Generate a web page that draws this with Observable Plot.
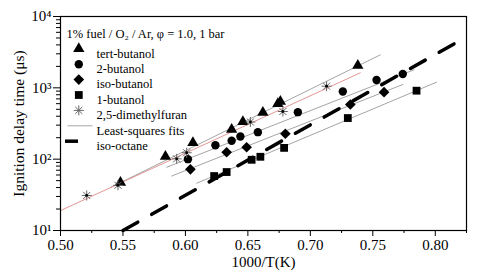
<!DOCTYPE html>
<html><head><meta charset="utf-8">
<script src="https://cdn.jsdelivr.net/npm/d3@7"></script>
<script src="https://cdn.jsdelivr.net/npm/@observablehq/plot@0.6"></script>
<style>body{margin:0;background:#fff}</style>
</head><body><div id="chart"></div>
<script>
// ---- data (1000/T in 1/K, ignition delay in µs) ----
const tertX = [0.548, 0.584, 0.606, 0.637, 0.646, 0.662, 0.674, 0.676, 0.738];
const tertT = [47, 109, 170, 260, 335, 450, 600, 645, 2050];
const but2X = [0.602, 0.624, 0.637, 0.644, 0.658, 0.690, 0.726, 0.753, 0.774];
const but2T = [100, 157, 181, 208, 239, 456, 889, 1288, 1564];
const isoX = [0.604, 0.633, 0.649, 0.680, 0.732, 0.759];
const isoT = [72, 125, 147, 227, 584, 869];
const but1X = [0.623, 0.633, 0.653, 0.660, 0.679, 0.730, 0.785];
const but1T = [58, 66, 98, 108, 144, 377, 912];
const dmfX = [0.521, 0.546, 0.593, 0.601, 0.652, 0.678, 0.713];
const dmfT = [31, 43, 101, 123, 332, 466, 1054];
// least-squares fit end points
const fitTertX = [0.540, 0.756], fitTertT = [40, 2900];
const fitBut2X = [0.585, 0.783], fitBut2T = [77, 1790];
const fitIsoX = [0.589, 0.774], fitIsoT = [58, 1114];
const fitBut1X = [0.609, 0.801], fitBut1T = [46, 1200];
const fitDmfX = [0.500, 0.740], fitDmfT = [19, 1625];
// iso-octane model line
const isoOctX = [0.550, 0.825], isoOctT = [10, 5180];
// ticks
const xMajor = [0.50, 0.55, 0.60, 0.65, 0.70, 0.75, 0.80];
const xMinor = [0.525, 0.575, 0.625, 0.675, 0.725, 0.775, 0.825];
const yMajor = [10, 100, 1000, 10000];
const yMajorLabels = ["10¹", "10²", "10³", "10⁴"];
const yMinor = [20,30,40,50,60,70,80,90,200,300,400,500,600,700,800,900,2000,3000,4000,5000,6000,7000,8000,9000];
const legendTitle = "1% fuel / O₂ / Ar, φ = 1.0, 1 bar";
const legendLabels = ["tert-butanol", "2-butanol", "iso-butanol", "1-butanol", "2,5-dimethylfuran", "Least-squares fits", "iso-octane"];

const rows = (X, T) => X.map((x, i) => ({x, t: T[i]}));

const asterisk = {draw(ctx, size) {
  const r = Math.sqrt(size / Math.PI);
  for (let k = 0; k < 4; k++) {
    const a = k * Math.PI / 4;
    ctx.moveTo(-r * Math.cos(a), -r * Math.sin(a));
    ctx.lineTo(r * Math.cos(a), r * Math.sin(a));
  }
}};
const hline = {draw(ctx, size) {
  const r = Math.sqrt(size / Math.PI);
  ctx.moveTo(-r, 0); ctx.lineTo(r, 0);
}};

const FONT = "Liberation Serif, Times New Roman, serif";
const gray = "#9a9a9a", pink = "#e08a8a";
const rowDy = i => 32.3 + 15.4 * i;
const legendMark = (i, opts) => Plot.dot([0], {x: null, y: null, frameAnchor: "top-left", dx: 18.3, dy: rowDy(i), ...opts});
const legendText = (label, i) => Plot.text([label], {x: null, y: null, text: d => d, frameAnchor: "top-left", dx: 36, dy: rowDy(i), textAnchor: "start", fontSize: 12.5, fontFamily: FONT});

const chart = Plot.plot({
  width: 480, height: 278,
  marginLeft: 60, marginRight: 14, marginTop: 16, marginBottom: 48,
  style: {fontFamily: FONT, fontSize: "15px", color: "black", background: "white"},
  x: {domain: [0.5, 0.825]},
  y: {type: "log", domain: [10, 10000]},
  marks: [
    // fits
    Plot.line(rows(fitTertX, fitTertT), {x: "x", y: "t", stroke: gray, strokeWidth: 0.9}),
    Plot.line(rows(fitBut2X, fitBut2T), {x: "x", y: "t", stroke: gray, strokeWidth: 0.9}),
    Plot.line(rows(fitIsoX, fitIsoT), {x: "x", y: "t", stroke: gray, strokeWidth: 0.9}),
    Plot.line(rows(fitBut1X, fitBut1T), {x: "x", y: "t", stroke: gray, strokeWidth: 0.9}),
    Plot.line(rows(fitDmfX, fitDmfT), {x: "x", y: "t", stroke: pink, strokeWidth: 0.9}),
    // iso-octane
    Plot.line(rows(isoOctX, isoOctT), {x: "x", y: "t", stroke: "black", strokeWidth: 3.5, strokeDasharray: "17,16"}),
    // markers
    Plot.dot(rows(tertX, tertT), {x: "x", y: "t", symbol: "triangle", fill: "black", r: 4.2}),
    Plot.dot(rows(but2X, but2T), {x: "x", y: "t", symbol: "circle", fill: "black", r: 4.2}),
    Plot.dot(rows(isoX, isoT), {x: "x", y: "t", symbol: "diamond2", fill: "black", r: 4.8}),
    Plot.dot(rows(but1X, but1T), {x: "x", y: "t", symbol: "square", fill: "black", r: 4.4}),
    Plot.dot(rows(dmfX, dmfT), {x: "x", y: "t", symbol: asterisk, fill: "none", stroke: "#666", strokeWidth: 1, r: 5}),
    Plot.dot(rows(dmfX, dmfT), {x: "x", y: "t", fill: "black", r: 1.4}),
    // axes
    Plot.axisX(xMajor, {tickSize: 6, tickPadding: 3, tickFormat: d => d.toFixed(2), label: null, fontSize: 15, fontFamily: FONT}),
    Plot.axisX(xMinor, {tickSize: 3, text: null, label: null}),
    Plot.axisY(yMajor, {tickSize: 7, tickPadding: 2, tickFormat: d => yMajorLabels[yMajor.indexOf(d)], label: null, fontSize: 15, fontFamily: FONT}),
    Plot.axisY(yMinor, {tickSize: 4, text: null, label: null}),
    Plot.frame({stroke: "black", strokeWidth: 1.2}),
    Plot.text(["1000/T(K)"], {x: null, y: null, text: d => d, frameAnchor: "bottom", dy: 36.5, fontSize: 15, fontFamily: FONT}),
    Plot.text(["Ignition delay time (μs)"], {x: null, y: null, text: d => d, frameAnchor: "left", textAnchor: "middle", dx: -41, rotate: -90, fontSize: 15.5, fontFamily: FONT}),
    // legend
    Plot.text([legendTitle], {x: null, y: null, text: d => d, frameAnchor: "top-left", dx: 6, dy: 12.3, textAnchor: "start", fontSize: 12.5, fontFamily: FONT}),
    legendMark(0, {symbol: "triangle", fill: "black", r: 4.2}),
    legendMark(1, {symbol: "circle", fill: "black", r: 4.2}),
    legendMark(2, {symbol: "diamond2", fill: "black", r: 4.8}),
    legendMark(3, {symbol: "square", fill: "black", r: 4.4}),
    legendMark(4, {symbol: asterisk, fill: "none", stroke: "#666", strokeWidth: 1, r: 5}),
    legendMark(5, {symbol: hline, fill: "none", stroke: gray, strokeWidth: 0.9, r: 12.5, dx: 19.5}),
    legendMark(6, {symbol: hline, fill: "none", stroke: "black", strokeWidth: 3.5, r: 6.5, dx: 11}),
    ...legendLabels.map(legendText)
  ]
});
document.getElementById("chart").append(chart);
</script></body></html>
